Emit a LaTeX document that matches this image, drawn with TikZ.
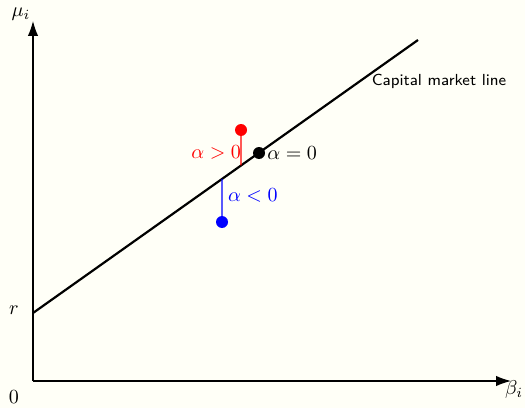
\documentclass[tikz,border=0pt]{standalone}
\usetikzlibrary{arrows.meta,positioning,calc,backgrounds}
\definecolor{paper}{HTML}{FFFFF7}
\definecolor{ink}{HTML}{000000}
\definecolor{posC}{HTML}{FF0000}
\definecolor{negC}{HTML}{0000FF}
\tikzset{
  >={Latex[length=2.6mm,width=1.8mm]},
  axis/.style={->,ink,line width=0.55pt},
  cml/.style={ink,line width=1.1pt},
  dot/.style={circle,fill=#1,inner sep=0pt,minimum size=6pt},
  stem/.style={#1,line width=0.6pt},
  axlab/.style={font=\normalsize,text=ink},
  alab/.style={font=\normalsize},
  cmltxt/.style={font=\footnotesize\sffamily,text=ink},
}
\begin{document}
\begin{tikzpicture}[x=0.5pt,y=0.5pt]
\useasboundingbox[fill=paper] (0,0) rectangle (525,408);

% ================= AXES =================
\coordinate (O) at (33,27);
\coordinate (Ytop) at (33,387);
\coordinate (Xend) at (511,27);
\draw[axis] (O) -- (Ytop);
\draw[axis] (O) -- (Xend);
\node[axlab] (mu) at (21,394) {$\mu_i$};
\node[axlab] (beta) at (514,19) {$\beta_i$};
\node[axlab] (zero) at (14,11) {$0$};
\node[axlab] (rlab) at (14,98) {$r$};

% ================= CAPITAL MARKET LINE =================
\coordinate (rpt) at (33,95);
\coordinate (cmlend) at (418,368);
\draw[cml] (rpt) -- (cmlend);
\node[cmltxt] (cmllab) at (439,327) {Capital market line};

% ================= ALPHA POINTS =================
\coordinate (redfoot) at ($(rpt)!0.5403!(cmlend)$);
\coordinate (bluefoot) at ($(rpt)!0.4909!(cmlend)$);
\node[dot=posC] (red) at (241,278) {};
\node[dot=ink] (black) at (259,255) {};
\node[dot=negC] (blue) at (222,186) {};
\draw[stem=posC] (red.center) -- (redfoot);
\draw[stem=negC] (bluefoot) -- (blue.center);
\node[alab,text=posC,anchor=east] (apos) at (248,256) {$\alpha>0$};
\node[alab,text=ink,anchor=west] (azero) at ([xshift=-2.5pt]black.east) {$\alpha=0$};
\node[alab,text=negC,anchor=west] (aneg) at (221,213) {$\alpha<0$};

\end{tikzpicture}
\end{document}
